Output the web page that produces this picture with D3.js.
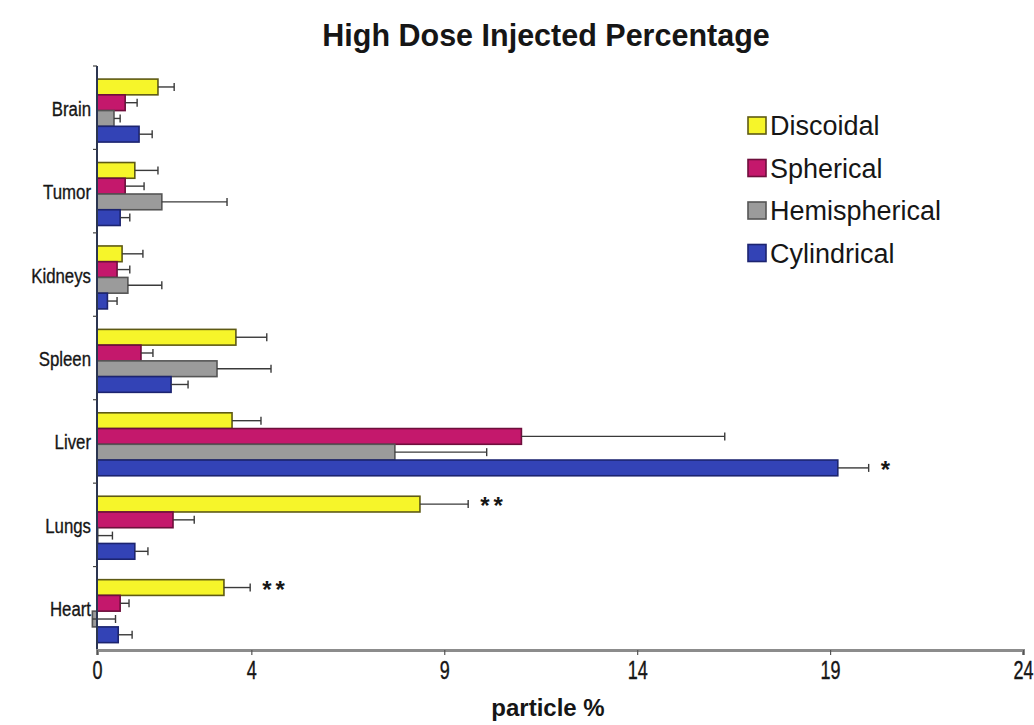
<!DOCTYPE html>
<html>
<head>
<meta charset="utf-8">
<script src="https://cdn.jsdelivr.net/npm/d3@7"></script>
<style>
  html, body { margin: 0; padding: 0; background: #fff; }
  svg { display: block; }
  text { font-family: "Liberation Sans", Arial, Helvetica, sans-serif; fill: #161616; }
</style>
</head>
<body>
<svg id="chart" width="1034" height="725"></svg>
<script>
// Organs, top to bottom
const categories = ["Brain", "Tumor", "Kidneys", "Spleen", "Liver", "Lungs", "Heart"];
// Particle shapes, drawn in this order inside each organ group
const series = ["Discoidal", "Spherical", "Hemispherical", "Cylindrical"];

// Mean injected percentage per organ
const discoidal     = [1.58, 0.98, 0.65, 3.60, 3.50, 8.37, 3.29];
const spherical     = [0.73, 0.73, 0.52, 1.14, 11.0, 1.97, 0.60];
const hemispherical = [0.44, 1.68, 0.80, 3.11, 7.72, 0.02, -0.12];
const cylindrical   = [1.09, 0.60, 0.27, 1.92, 19.2, 0.98, 0.55];

// Standard deviation (upper whisker only)
const discoidalErr     = [0.42, 0.60, 0.54, 0.80, 0.75, 1.25, 0.68];
const sphericalErr     = [0.31, 0.49, 0.33, 0.31, 5.27, 0.55, 0.23];
const hemisphericalErr = [0.16, 1.69, 0.88, 1.40, 2.38, 0.38, 0.60];
const cylindricalErr   = [0.34, 0.25, 0.25, 0.44, 0.80, 0.34, 0.36];

const xTickValues = [0, 4, 9, 14, 19, 24];

// Significance marks placed after the whisker of a given bar
const sigOrgans  = ["Liver", "Lungs", "Heart"];
const sigSeries  = ["Cylindrical", "Discoidal", "Discoidal"];
const sigMarks   = ["*", "**", "**"];

const fills   = ["#f6f52a", "#c4186c", "#9b9b9b", "#3343b6"];
const strokes = ["#5e5a14", "#6e0f3c", "#555555", "#1c2470"];

const values = [discoidal, spherical, hemispherical, cylindrical];
const errors = [discoidalErr, sphericalErr, hemisphericalErr, cylindricalErr];

const rows = [];
categories.forEach((c, i) => {
  series.forEach((s, j) => {
    rows.push({ organ: c, shape: s, si: j, value: values[j][i], err: errors[j][i] });
  });
});

const svg = d3.select("#chart");

const x = d3.scaleLinear().domain([0, 24]).range([97, 1023]);
const y = d3.scaleBand().domain(categories).range([66, 650]).padding(0);
const yInner = d3.scaleBand().domain(series)
  .range([0, y.bandwidth()]).paddingInner(0).paddingOuter(0.65).align(0.64);

// Title
svg.append("text")
  .attr("x", 546).attr("y", 46)
  .attr("text-anchor", "middle")
  .style("font-size", "30.5px").style("font-weight", "bold")
  .text("High Dose Injected Percentage");

// Bars
const g = svg.append("g");
g.selectAll("rect.bar").data(rows).join("rect")
  .attr("class", "bar")
  .attr("x", d => x(Math.min(0, d.value)))
  .attr("y", d => y(d.organ) + yInner(d.shape))
  .attr("width", d => Math.abs(x(d.value) - x(0)))
  .attr("height", yInner.bandwidth())
  .attr("fill", d => fills[d.si])
  .attr("stroke", d => strokes[d.si])
  .attr("stroke-width", 1.6);

// Error whiskers
const eb = svg.append("g").attr("stroke", "#3a3a3a").attr("stroke-width", 1.4);
rows.forEach(d => {
  const cy = y(d.organ) + yInner(d.shape) + yInner.bandwidth() / 2;
  const x0 = x(d.value), x1 = x(d.value + d.err);
  eb.append("line").attr("x1", x0).attr("x2", x1).attr("y1", cy).attr("y2", cy);
  eb.append("line").attr("x1", x1).attr("x2", x1).attr("y1", cy - 4).attr("y2", cy + 4);
});

// Significance marks
sigOrgans.forEach((o, k) => {
  const j = series.indexOf(sigSeries[k]);
  const i = categories.indexOf(o);
  const cy = y(o) + yInner(sigSeries[k]) + yInner.bandwidth() / 2;
  svg.append("text")
    .attr("x", x(values[j][i] + errors[j][i]) + 12)
    .attr("y", cy + 10)
    .style("font-size", "24px").style("font-weight", "bold")
    .style("letter-spacing", "4px")
    .text(sigMarks[k]);
});

// Y axis: organ names centred on their group, ticks at group boundaries
const yAxis = svg.append("g");
yAxis.append("line")
  .attr("x1", x(0)).attr("x2", x(0))
  .attr("y1", y.range()[0]).attr("y2", y.range()[1])
  .attr("stroke", "#2b3550").attr("stroke-width", 2);
yAxis.selectAll("line.tick").data(categories).join("line")
  .attr("class", "tick")
  .attr("x1", x(0) - 4).attr("x2", x(0))
  .attr("y1", d => y(d)).attr("y2", d => y(d))
  .attr("stroke", "#444").attr("stroke-width", 1.2);
// condensed labels: horizontal squeeze around the right edge
yAxis.selectAll("text").data(categories).join("text")
  .attr("text-anchor", "end")
  .attr("transform", d => `translate(${x(0) - 6},${y(d) + y.bandwidth() / 2 + 8}) scale(0.8,1)`)
  .style("font-size", "21px")
  .style("stroke", "#161616").style("stroke-width", "0.35px")
  .text(d => d);

// X axis
const xAxis = svg.append("g")
  .attr("transform", `translate(0,${y.range()[1]})`)
  .call(d3.axisBottom(x).tickValues(xTickValues).tickSize(5).tickPadding(6).tickFormat(d3.format("d")));
xAxis.select(".domain").attr("stroke", "#8c8c8c").attr("stroke-width", 3);
xAxis.selectAll(".tick line").attr("stroke", "#555").attr("stroke-width", 1.2);
xAxis.selectAll(".tick text")
  .attr("y", 0).attr("dy", 0)
  .attr("transform", "translate(0,29) scale(0.72,1)")
  .style("font-size", "25px")
  .style("stroke", "#161616").style("stroke-width", "0.4px")
  .attr("fill", "#161616");

svg.append("text")
  .attr("x", 548).attr("y", 716)
  .attr("text-anchor", "middle")
  .style("font-size", "24px").style("font-weight", "bold")
  .text("particle %");

// Legend
const legend = svg.append("g").attr("transform", "translate(748,117)");
series.forEach((s, j) => {
  const row = legend.append("g").attr("transform", `translate(0,${j * 42.5})`);
  row.append("rect")
    .attr("width", 18).attr("height", 17)
    .attr("fill", fills[j]).attr("stroke", strokes[j]).attr("stroke-width", 1.6);
  row.append("text")
    .attr("x", 22).attr("y", 18)
    .style("font-size", "27px")
    .text(s);
});
</script>
</body>
</html>
